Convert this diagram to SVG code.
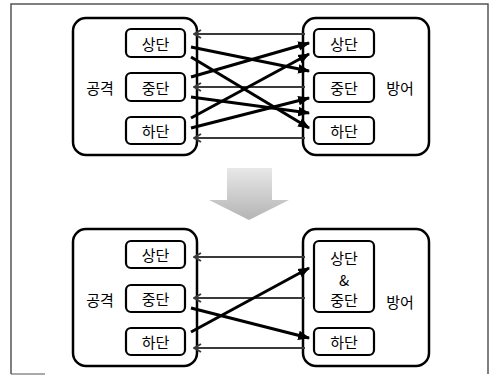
<svg xmlns="http://www.w3.org/2000/svg" width="492" height="376" viewBox="0 0 492 376">
<defs>
<style>
.big{fill:#fff;stroke:#000;stroke-width:2.5}
.small{fill:#fff;stroke:#000;stroke-width:2.2}
.t{font-family:"Noto Sans CJK KR","Noto Sans",sans-serif;font-size:15px;fill:#000;text-anchor:middle;dominant-baseline:central}
.thick{stroke:#000;stroke-width:3;fill:none;marker-end:url(#ah)}
.thin{stroke:#3a3a3a;stroke-width:2;fill:none;marker-end:url(#al)}
</style>
<marker id="ah" viewBox="0 0 10 10" refX="9" refY="5" markerWidth="4" markerHeight="4" orient="auto" markerUnits="strokeWidth">
<path d="M0,1 L10,5 L0,9 Z" fill="#000"/>
</marker>
<marker id="al" viewBox="0 0 10 10" refX="9" refY="5" markerWidth="5" markerHeight="5" orient="auto" markerUnits="strokeWidth">
<path d="M2,1 L9,5 L2,9" fill="none" stroke="#3a3a3a" stroke-width="2"/>
</marker>
<linearGradient id="g" x1="0" y1="0" x2="0" y2="1">
<stop offset="0" stop-color="#e8e8e8"/>
<stop offset="1" stop-color="#b4b4b4"/>
</linearGradient>
</defs>
<path d="M11,374 L11,4 L488,4 L488,374" fill="none" stroke="#555" stroke-width="1.5"/>
<path d="M11,374 L45,374" fill="none" stroke="#555" stroke-width="1"/>

<g id="top-attack">
<rect class="big" x="73" y="18" width="124" height="137" rx="13"/>
<text class="t" x="100" y="87">공격</text>
</g>
<g id="top-a-high"><rect class="small" x="126" y="29" width="59" height="28" rx="5"/><text class="t" x="155.5" y="43">상단</text></g>
<g id="top-a-mid"><rect class="small" x="126" y="73" width="59" height="28" rx="5"/><text class="t" x="155.5" y="87">중단</text></g>
<g id="top-a-low"><rect class="small" x="126" y="117" width="59" height="27" rx="5"/><text class="t" x="155.5" y="130.5">하단</text></g>

<g id="top-defense">
<rect class="big" x="303" y="18" width="126" height="137" rx="13"/>
<text class="t" x="400" y="87">방어</text>
</g>
<g id="top-d-high"><rect class="small" x="314" y="29" width="60" height="28" rx="5"/><text class="t" x="344" y="43">상단</text></g>
<g id="top-d-mid"><rect class="small" x="314" y="73" width="60" height="29" rx="5"/><text class="t" x="344" y="87.5">중단</text></g>
<g id="top-d-low"><rect class="small" x="314" y="117" width="60" height="27" rx="5"/><text class="t" x="344" y="130.5">하단</text></g>

<g id="down-arrow">
<path d="M227,168 L272,168 L272,200 L289,200 L249,220 L209,200 L227,200 Z" fill="url(#g)"/>
</g>

<g id="bottom-attack">
<rect class="big" x="73" y="229" width="124" height="137" rx="13"/>
<text class="t" x="100" y="299">공격</text>
</g>
<g id="bot-a-high"><rect class="small" x="126" y="241" width="59" height="27" rx="5"/><text class="t" x="155.5" y="254.5">상단</text></g>
<g id="bot-a-mid"><rect class="small" x="126" y="285" width="59" height="27" rx="5"/><text class="t" x="155.5" y="298.5">중단</text></g>
<g id="bot-a-low"><rect class="small" x="126" y="328" width="59" height="27" rx="5"/><text class="t" x="155.5" y="341.5">하단</text></g>

<g id="bottom-defense">
<rect class="big" x="303" y="229" width="126" height="137" rx="13"/>
<text class="t" x="400" y="301">방어</text>
</g>
<g id="bot-d-highmid"><rect class="small" x="314" y="241" width="60" height="71" rx="5"/>
<text class="t" x="344" y="257">상단</text><text class="t" x="344" y="279">&amp;</text><text class="t" x="344" y="299">중단</text></g>
<g id="bot-d-low"><rect class="small" x="314" y="328" width="60" height="27" rx="5"/><text class="t" x="344" y="341.5">하단</text></g>

<g id="connectors">
<line class="thin" x1="305" y1="34" x2="194" y2="34"/>
<line class="thin" x1="305" y1="87" x2="194" y2="87"/>
<line class="thin" x1="305" y1="138" x2="194" y2="138"/>
<line class="thick" x1="191" y1="47" x2="309" y2="71"/>
<line class="thick" x1="191" y1="57" x2="309" y2="128"/>
<line class="thick" x1="191" y1="77" x2="309" y2="43"/>
<line class="thick" x1="191" y1="97" x2="309" y2="113"/>
<line class="thick" x1="191" y1="118" x2="309" y2="54"/>
<line class="thick" x1="191" y1="128" x2="309" y2="98"/>

<line class="thin" x1="305" y1="257" x2="194" y2="257"/>
<line class="thin" x1="305" y1="298" x2="194" y2="298"/>
<line class="thin" x1="305" y1="348" x2="194" y2="348"/>
<line class="thick" x1="191" y1="332" x2="309" y2="268"/>
<line class="thick" x1="191" y1="308" x2="309" y2="338"/>
</g>
</svg>
